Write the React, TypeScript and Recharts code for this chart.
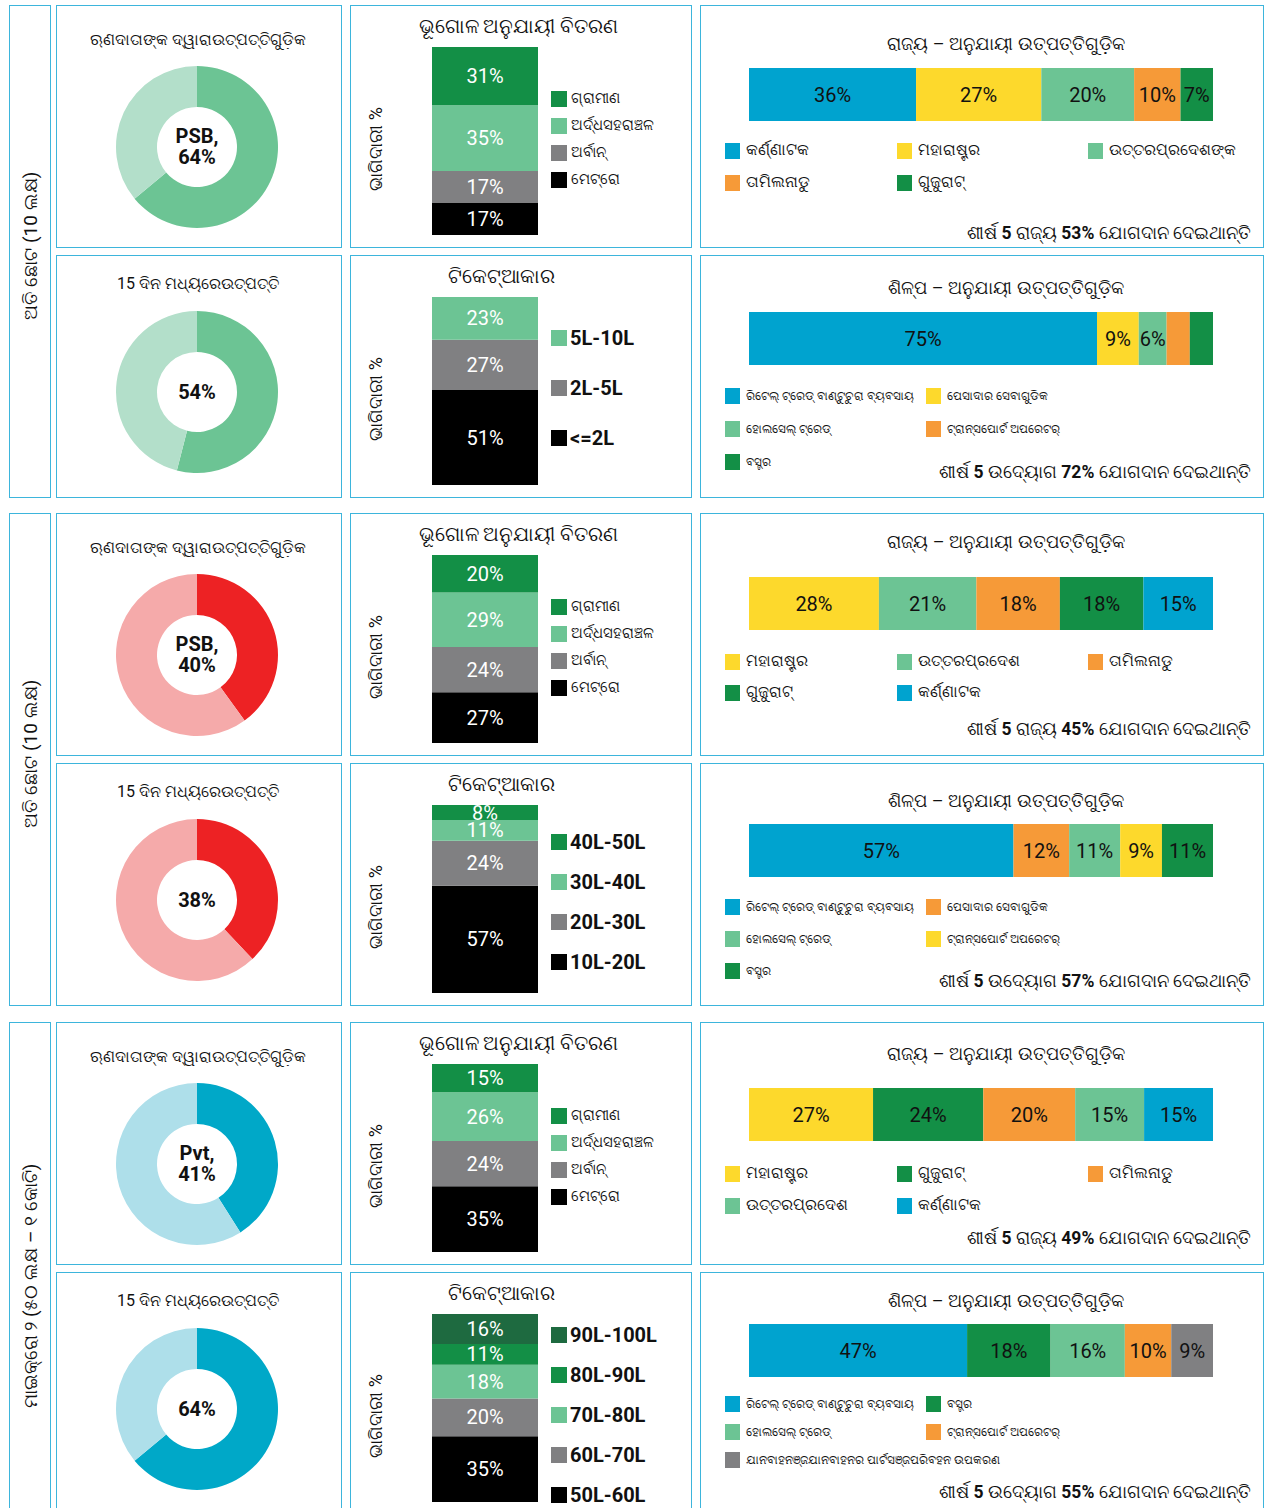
import React from "react";
import { PieChart, Pie, Cell, BarChart, Bar, XAxis, YAxis, LabelList } from "recharts";

// ---- data ----
const SECTION_LABELS = ["ଅତି ଛୋଟ (10 ଲକ୍ଷ)", "ଅତି ଛୋଟ (10 ଲକ୍ଷ)", "ମାଇକ୍ରୋ ୨ (୫୦ ଲକ୍ଷ – ୧ କୋଟି)"];

const LENDER_NAMES = ["PSB", "PSB", "Pvt"];
const LENDER_SHARE = [64, 40, 41];
const WITHIN_15D = [54, 38, 64];

const GEO_LABELS = ["ଗ୍ରାମୀଣ", "ଅର୍ଦ୍ଧସହରାଞ୍ଚଳ", "ଅର୍ବାନ୍", "ମେଟ୍ରୋ"];
const GEO_VALUES = [
  [31, 35, 17, 17],
  [20, 29, 24, 27],
  [15, 26, 24, 35],
];

const TICKET_LABELS = [
  ["5L-10L", "2L-5L", "<=2L"],
  ["40L-50L", "30L-40L", "20L-30L", "10L-20L"],
  ["90L-100L", "80L-90L", "70L-80L", "60L-70L", "50L-60L"],
];
const TICKET_VALUES = [
  [23, 27, 51],
  [8, 11, 24, 57],
  [16, 11, 18, 20, 35],
];

const STATE_NAMES = [
  ["କର୍ଣ୍ଣାଟକ", "ମହାରାଷ୍ଟ୍ର", "ଉତ୍ତରପ୍ରଦେଶଙ୍କ", "ତାମିଲନାଡୁ", "ଗୁଜୁରାଟ୍"],
  ["ମହାରାଷ୍ଟ୍ର", "ଉତ୍ତରପ୍ରଦେଶ", "ତାମିଲନାଡୁ", "ଗୁଜୁରାଟ୍", "କର୍ଣ୍ଣାଟକ"],
  ["ମହାରାଷ୍ଟ୍ର", "ଗୁଜୁରାଟ୍", "ତାମିଲନାଡୁ", "ଉତ୍ତରପ୍ରଦେଶ", "କର୍ଣ୍ଣାଟକ"],
];
const STATE_VALUES = [
  [36, 27, 20, 10, 7],
  [28, 21, 18, 18, 15],
  [27, 24, 20, 15, 15],
];
const TOP5_STATES = [53, 45, 49];

const RETAIL = "ରିଟେଲ୍ ଟ୍ରେଡ୍ ବାଣ୍ଟୁଚୁରା ବ୍ୟବସାୟ";
const PROF = "ପେସାଦାର ସେବାଗୁଡିକ";
const WHOLESALE = "ହୋଲସେଲ୍ ଟ୍ରେଡ୍";
const TRANSPORT = "ଟ୍ରାନ୍ସପୋର୍ଟ ଅପରେଟର୍";
const TEXTILE = "ବସ୍ତ୍ର";
const VEHICLE = "ଯାନବାହନଞ୍ଜଯାନବାହନର ପାର୍ଟସଞ୍ଜପରିବହନ ଉପକରଣ";
const INDUSTRY_NAMES = [
  [RETAIL, PROF, WHOLESALE, TRANSPORT, TEXTILE],
  [RETAIL, PROF, WHOLESALE, TRANSPORT, TEXTILE],
  [RETAIL, TEXTILE, WHOLESALE, TRANSPORT, VEHICLE],
];
const INDUSTRY_VALUES = [
  [75, 9, 6, 5, 5],
  [57, 12, 11, 9, 11],
  [47, 18, 16, 10, 9],
];
const TOP5_INDUSTRY = [72, 57, 55];

// ---- styles ----
const C = {
  blue: "#00a3cf",
  yellow: "#fdd92c",
  lgreen: "#6cc494",
  orange: "#f69a38",
  dgreen: "#138f46",
  xgreen: "#1e6a40",
  gray: "#808082",
  black: "#000000",
};
const DARK_FILLS = [C.blue, C.dgreen, C.xgreen, C.gray, C.black];
const DONUT_COLORS = [
  ["#6cc494", "#b3dfca"],
  ["#ed2224", "#f5aaaa"],
  ["#00a8c8", "#aedfea"],
];
const GEO_COLORS = [C.dgreen, C.lgreen, C.gray, C.black];
const TICKET_COLORS = [
  [C.lgreen, C.gray, C.black],
  [C.dgreen, C.lgreen, C.gray, C.black],
  [C.xgreen, C.dgreen, C.lgreen, C.gray, C.black],
];
const STATE_COLORS = [
  [C.blue, C.yellow, C.lgreen, C.orange, C.dgreen],
  [C.yellow, C.lgreen, C.orange, C.dgreen, C.blue],
  [C.yellow, C.dgreen, C.orange, C.lgreen, C.blue],
];
const INDUSTRY_COLORS = [
  [C.blue, C.yellow, C.lgreen, C.orange, C.dgreen],
  [C.blue, C.orange, C.lgreen, C.yellow, C.dgreen],
  [C.blue, C.dgreen, C.lgreen, C.orange, C.gray],
];

const BORDER = "#3db5dc";
const FONT = "Roboto, 'Noto Sans', 'DejaVu Sans', sans-serif";
const SECTION_TOPS = [5, 513, 1022];
const ROW_STEP = 250;

// horizontal panel layout: [row1, row2] per section
const HL = [
  [{ title: 38, bar: 62, leg: 145, gap: 32, foot: 227 }, { title: 32, bar: 56, leg: 140, gap: 33, foot: 216 }],
  [{ title: 28, bar: 63, leg: 148, gap: 31, foot: 215 }, { title: 37, bar: 60, leg: 143, gap: 32, foot: 217 }],
  [{ title: 31, bar: 65, leg: 151, gap: 32, foot: 215 }, { title: 28, bar: 51, leg: 131, gap: 28, foot: 219 }],
];
const TICKET_LEG = [{ y: 82, gap: 50 }, { y: 78, gap: 40 }, { y: 62, gap: 40 }];

function Txt({ x, y, w, children, size = 20, align = "center", weight = 400, color = "#111" }: any) {
  return (
    <div
      style={{
        position: "absolute",
        left: x,
        top: y - size * 0.7,
        width: w,
        height: size * 1.4,
        lineHeight: `${size * 1.4}px`,
        fontSize: size,
        fontWeight: weight,
        textAlign: align,
        color,
        whiteSpace: "nowrap",
      }}
    >
      {children}
    </div>
  );
}

function Box({ x, y, w, h, children }: any) {
  return (
    <div
      style={{
        position: "absolute",
        left: x,
        top: y,
        width: w,
        height: h,
        boxSizing: "border-box",
        border: `1.5px solid ${BORDER}`,
        background: "#fff",
      }}
    >
      {children}
    </div>
  );
}

function Donut({ s, row }: { s: number; row: number }) {
  const share = row === 0 ? LENDER_SHARE[s] : WITHIN_15D[s];
  const data = [{ v: share }, { v: 100 - share }];
  const title = row === 0 ? "ଋଣଦାତାଙ୍କ ଦ୍ୱାରାଉତ୍ପତ୍ତିଗୁଡ଼ିକ" : "15 ଦିନ ମଧ୍ୟରେଉତ୍ପତ୍ତି";
  const cy = row === 0 ? 141 : 136;
  return (
    <>
      <Txt x={0} y={row === 0 ? 34 : 28} w={282} size={16}>{title}</Txt>
      <div style={{ position: "absolute", left: 140 - 85, top: cy - 85 }}>
        <PieChart width={170} height={170} margin={{ top: 0, right: 0, bottom: 0, left: 0 }}>
          <Pie
            data={data}
            dataKey="v"
            cx={85}
            cy={85}
            innerRadius={40}
            outerRadius={81}
            startAngle={90}
            endAngle={-270}
            stroke="none"
            isAnimationActive={false}
          >
            {data.map((_, i) => (
              <Cell key={i} fill={DONUT_COLORS[s][i]} />
            ))}
          </Pie>
        </PieChart>
      </div>
      {row === 0 ? (
        <>
          <Txt x={0} y={cy - 11} w={280} weight={700}>{LENDER_NAMES[s] + ","}</Txt>
          <Txt x={0} y={cy + 10} w={280} weight={700}>{share + "%"}</Txt>
        </>
      ) : (
        <Txt x={0} y={cy} w={280} weight={700}>{share + "%"}</Txt>
      )}
    </>
  );
}

function WhiteLabel(props: any) {
  const { x, y, width, height, value } = props;
  return (
    <text x={x + width / 2} y={y + height / 2} dy={7} textAnchor="middle" fill="#fff" fontSize={20} fontFamily={FONT}>
      {value + "%"}
    </text>
  );
}

function Stacked({ s, row }: { s: number; row: number }) {
  const labels = row === 0 ? GEO_LABELS : TICKET_LABELS[s];
  const values = row === 0 ? GEO_VALUES[s] : TICKET_VALUES[s];
  const colors = row === 0 ? GEO_COLORS : TICKET_COLORS[s];
  const total = values.reduce((a, b) => a + b, 0);
  const row0: any = { name: "x" };
  values.forEach((v, i) => (row0["k" + i] = v));
  const order = values.map((_, i) => values.length - 1 - i); // bottom first
  const title = row === 0 ? "ଭୂଗୋଳ ଅନୁଯାୟୀ ବିତରଣ" : "ଟିକେଟ୍ଆକାର";
  return (
    <>
      <Txt x={0} y={20} w={row === 0 ? 335 : 300}>{title}</Txt>
      <div
        style={{
          position: "absolute",
          left: 25,
          top: 143,
          transform: "translate(-50%, -50%) rotate(-90deg)",
          fontSize: 18,
          whiteSpace: "nowrap",
          color: "#111",
        }}
      >
        ଭାଗିଦାରୀ %
      </div>
      <div style={{ position: "absolute", left: 81, top: 41 }}>
        <BarChart width={106} height={188} data={[row0]} margin={{ top: 0, right: 0, bottom: 0, left: 0 }} barCategoryGap={0}>
          <XAxis dataKey="name" hide />
          <YAxis type="number" domain={[0, total]} hide />
          {order.map((i) => (
            <Bar key={i} dataKey={"k" + i} stackId="a" fill={colors[i]} isAnimationActive={false}>
              <LabelList dataKey={"k" + i} content={<WhiteLabel />} />
            </Bar>
          ))}
        </BarChart>
      </div>
      {labels.map((l, i) => {
        const y = row === 0 ? 93 + i * 27 : TICKET_LEG[s].y + i * TICKET_LEG[s].gap;
        return (
          <React.Fragment key={l}>
            <div style={{ position: "absolute", left: 200, top: y - 8, width: 16, height: 16, background: colors[i] }} />
            {row === 0 ? (
              <Txt x={220} y={y - 1} size={15} align="left">{l}</Txt>
            ) : (
              <Txt x={219} y={y} size={20} weight={700} align="left">{l}</Txt>
            )}
          </React.Fragment>
        );
      })}
    </>
  );
}

function SegLabel(props: any) {
  const { x, y, width, height, value, fill } = props;
  if (value < 6) return null;
  const dark = DARK_FILLS.includes(fill);
  return (
    <text x={x + width / 2} y={y + height / 2} dy={7} textAnchor="middle" fill={dark ? "#fff" : "#111"} fontSize={20} fontFamily={FONT}>
      {value + "%"}
    </text>
  );
}

function Horizontal({ s, row }: { s: number; row: number }) {
  const L = HL[s][row];
  const names = row === 0 ? STATE_NAMES[s] : INDUSTRY_NAMES[s];
  const values = row === 0 ? STATE_VALUES[s] : INDUSTRY_VALUES[s];
  const colors = row === 0 ? STATE_COLORS[s] : INDUSTRY_COLORS[s];
  const total = values.reduce((a, b) => a + b, 0);
  const row0: any = { name: "x" };
  values.forEach((v, i) => (row0["k" + i] = v));
  const cols = row === 0 ? [24, 196, 387] : [24, 225];
  const title = row === 0 ? "ରାଜ୍ୟ – ଅନୁଯାୟୀ ଉତ୍ପତ୍ତିଗୁଡ଼ିକ" : "ଶିଳ୍ପ – ଅନୁଯାୟୀ ଉତ୍ପତ୍ତିଗୁଡ଼ିକ";
  const word = row === 0 ? "ରାଜ୍ୟ" : "ଉଦ୍ୟୋଗ";
  const top5 = row === 0 ? TOP5_STATES[s] : TOP5_INDUSTRY[s];
  return (
    <>
      <Txt x={48} y={L.title} w={514} size={18}>{title}</Txt>
      <div style={{ position: "absolute", left: 48, top: L.bar }}>
        <BarChart width={464} height={53} layout="vertical" data={[row0]} margin={{ top: 0, right: 0, bottom: 0, left: 0 }} barCategoryGap={0}>
          <XAxis type="number" domain={[0, total]} hide />
          <YAxis type="category" dataKey="name" hide />
          {values.map((_, i) => (
            <Bar key={i} dataKey={"k" + i} stackId="a" fill={colors[i]} isAnimationActive={false}>
              <LabelList dataKey={"k" + i} content={<SegLabel fill={colors[i]} />} />
            </Bar>
          ))}
        </BarChart>
      </div>
      {names.map((n, i) => {
        const c = i % cols.length;
        const r = Math.floor(i / cols.length);
        const y = L.leg + r * L.gap;
        return (
          <React.Fragment key={i}>
            <div style={{ position: "absolute", left: cols[c], top: y - 8, width: 15, height: 16, background: colors[i] }} />
            <Txt x={cols[c] + 21} y={y} size={row === 0 ? 15.5 : 11.8} align="left">{n}</Txt>
          </React.Fragment>
        );
      })}
      <div
        style={{
          position: "absolute",
          right: 12,
          top: L.foot - 12,
          fontSize: 17.5,
          lineHeight: "24px",
          whiteSpace: "nowrap",
          color: "#111",
        }}
      >
        ଶୀର୍ଷ <b>5</b> {word} <b>{top5}%</b> ଯୋଗଦାନ ଦେଇଥାନ୍ତି
      </div>
    </>
  );
}

export default function App() {
  return (
    <div
      style={{
        position: "absolute",
        left: 0,
        top: 0,
        width: 1266,
        height: 1508,
        overflow: "hidden",
        background: "#fff",
        fontFamily: FONT,
      }}
    >
      {SECTION_TOPS.map((top, s) => (
        <React.Fragment key={s}>
          <Box x={9} y={top} w={42} h={493}>
            <div
              style={{
                position: "absolute",
                left: 20,
                top: s === 2 ? 263 : 240,
                transform: "translate(-50%, -50%) rotate(-90deg)",
                fontSize: 19,
                whiteSpace: "nowrap",
                color: "#111",
              }}
            >
              {SECTION_LABELS[s]}
            </div>
          </Box>
          {[0, 1].map((row) => {
            const y = top + row * ROW_STEP;
            return (
              <React.Fragment key={row}>
                <Box x={56} y={y} w={286} h={243}>
                  <Donut s={s} row={row} />
                </Box>
                <Box x={350} y={y} w={342} h={243}>
                  <Stacked s={s} row={row} />
                </Box>
                <Box x={700} y={y} w={564} h={243}>
                  <Horizontal s={s} row={row} />
                </Box>
              </React.Fragment>
            );
          })}
        </React.Fragment>
      ))}
    </div>
  );
}
